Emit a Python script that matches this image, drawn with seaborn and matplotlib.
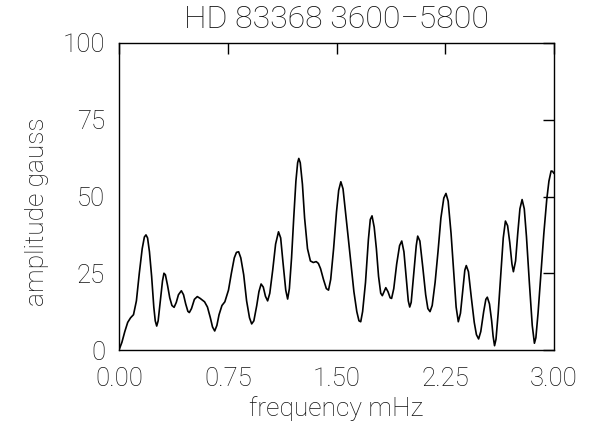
import matplotlib
matplotlib.use("Agg")
import matplotlib.pyplot as plt
import seaborn as sns
import pandas as pd

freq = [0.00, 0.02, 0.04, 0.06, 0.08, 0.10, 0.12, 0.14, 0.16, 0.175, 0.186, 0.197,
        0.21, 0.225, 0.24, 0.25, 0.26, 0.27, 0.285, 0.30, 0.31, 0.32, 0.335, 0.35,
        0.365, 0.38, 0.395, 0.41, 0.43, 0.445, 0.46, 0.475, 0.485, 0.50, 0.52, 0.54,
        0.56, 0.59, 0.61, 0.63, 0.645, 0.66, 0.675, 0.69, 0.71, 0.73, 0.755, 0.775,
        0.795, 0.81, 0.825, 0.84, 0.86, 0.88, 0.90, 0.915, 0.93, 0.95, 0.965, 0.98,
        0.995, 1.01, 1.025, 1.04, 1.06, 1.08, 1.10, 1.115, 1.13, 1.15, 1.163, 1.175,
        1.19, 1.205, 1.22, 1.232, 1.24, 1.25, 1.265, 1.28, 1.30, 1.32, 1.34, 1.36,
        1.375, 1.39, 1.41, 1.43, 1.445, 1.46, 1.48, 1.50, 1.515, 1.53, 1.545, 1.56,
        1.58, 1.60, 1.62, 1.64, 1.655, 1.667, 1.68, 1.70, 1.72, 1.733, 1.745, 1.76,
        1.775, 1.79, 1.805, 1.816, 1.828, 1.84, 1.855, 1.87, 1.88, 1.895, 1.915, 1.935,
        1.95, 1.965, 1.98, 1.995, 2.005, 2.015, 2.035, 2.05, 2.06, 2.075, 2.095, 2.115,
        2.13, 2.145, 2.16, 2.18, 2.20, 2.22, 2.24, 2.255, 2.27, 2.29, 2.31, 2.325,
        2.34, 2.355, 2.37, 2.385, 2.395, 2.41, 2.43, 2.45, 2.465, 2.48, 2.495, 2.515,
        2.53, 2.54, 2.555, 2.57, 2.58, 2.59, 2.60, 2.615, 2.635, 2.65, 2.665, 2.68,
        2.695, 2.71, 2.72, 2.735, 2.75, 2.765, 2.78, 2.795, 2.81, 2.83, 2.85, 2.865,
        2.875, 2.89, 2.91, 2.93, 2.95, 2.965, 2.98, 2.99, 3.00]
amplitude = [0, 2.5, 6, 9, 10.5, 11.5, 16, 25, 33, 36.8, 37.5, 36.5,
             32, 24, 14, 9.5, 7.8, 9.5, 16, 22.5, 25, 24.5, 21, 17,
             14.5, 13.9, 15.5, 18, 19.3, 18, 15, 12.6, 12.2, 13.5, 16.5, 17.4,
             16.8, 15.7, 14, 10.5, 7.5, 6.2, 8, 11.5, 14.5, 15.7, 19.5, 25,
             30, 31.8, 32, 30, 24.5, 16, 10.5, 8.5, 9.5, 14.5, 19, 21.5,
             20.5, 17.5, 16, 18.5, 26, 34.5, 38.5, 36.5, 29, 19.5, 16.6, 20,
             30, 43, 55, 61, 62.4, 61, 54, 43, 33, 29, 28.5, 28.8,
             28.2, 26.5, 23, 20, 19.5, 23, 33, 45, 52, 54.8, 52.5, 46,
             37, 28, 19, 12.5, 9.5, 9.2, 12.5, 22, 36, 42.5, 43.7, 40,
             33, 24, 18.5, 17.7, 19, 20.3, 19, 17, 16.8, 20, 28, 34,
             35.5, 32, 24, 16, 14, 15.5, 26, 34, 37.1, 35.5, 27, 18,
             13.5, 12.5, 14.5, 22, 32, 43, 49.5, 51, 48.5, 38, 24, 14,
             9.2, 12, 19, 26, 27.5, 25.5, 17, 9, 5, 3.6, 6, 12.5,
             16.5, 17.2, 15, 9.5, 4.5, 1.4, 3.5, 12, 26, 36.5, 42, 40.5,
             35, 28, 25.5, 29, 38, 46, 49, 46, 37, 22, 8, 2.2,
             4, 12, 25, 38, 49, 55, 58.3, 58.2, 57.5]

x_ticks = [0.0, 0.75, 1.5, 2.25, 3.0]
x_tick_labels = ["0.00", "0.75", "1.50", "2.25", "3.00"]
y_ticks = [0, 25, 50, 75, 100]
y_tick_labels = ["0", "25", "50", "75", "100"]

title = "HD 83368 3600\u22125800"
xlabel = "frequency mHz"
ylabel = "amplitude gauss"

sns.set_style("white")
plt.rcParams['font.family'] = ['Roboto', 'DejaVu Sans']

df = pd.DataFrame({"freq": freq, "amp": amplitude})

fig = plt.figure(figsize=(5.97, 4.30), dpi=100)
ax = fig.add_axes([119/597, 80/430, 435/597, 307/430])
sns.lineplot(data=df, x="freq", y="amp", ax=ax, color="black", linewidth=1.2,
             sort=False, estimator=None)

ax.set_xlim(0, 3)
ax.set_ylim(0, 100)
ax.set_xticks(x_ticks)
ax.set_xticklabels(x_tick_labels)
ax.set_yticks(y_ticks)
ax.set_yticklabels(y_tick_labels)
ax.tick_params(direction="in", length=8, width=1, colors="black",
               top=True, right=True, labelsize=18.5, pad=10)
ax.tick_params(axis="x", pad=12)
for s in ax.spines.values():
    s.set_visible(True)
    s.set_color("black")
    s.set_linewidth(1)

fontkw = dict(fontweight="light", color="#111111")
ax.set_title(title, fontsize=23, pad=11, **fontkw)
ax.set_xlabel(xlabel, fontsize=19, labelpad=4, **fontkw)
ax.set_ylabel(ylabel, fontsize=19, **fontkw)
ax.yaxis.set_label_coords(-0.16, 0.45)
for lab in ax.get_xticklabels() + ax.get_yticklabels():
    lab.set_fontweight("light")
    lab.set_color("#111111")

fig.savefig("out.png", dpi=100)
